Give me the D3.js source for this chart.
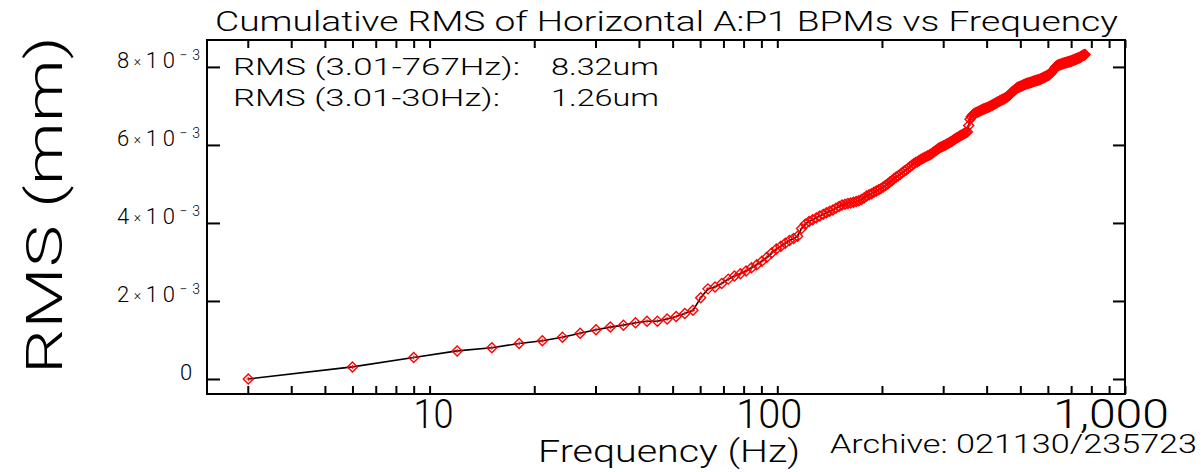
<!DOCTYPE html>
<html>
<head>
<meta charset="utf-8">
<script src="https://cdn.jsdelivr.net/npm/d3@7"></script>
<style>
  html, body { margin: 0; padding: 0; background: #fff; }
  svg { display: block; }
  text { font-family: Roboto, "DejaVu Sans", sans-serif; font-weight: 300; fill: #000; }
</style>
</head>
<body>
<svg id="chart" width="1201" height="472"></svg>
<script>
// ---- data ----
// Frequency bins (Hz)
const freqHz = [
  3.01, 6.0, 9.0, 12.0,
  15.1, 18.1, 21.1, 24.1, 27.1, 30.1, 33.1, 36.1, 39.1,
  42.2, 45.2, 48.2, 51.2, 54.2, 57.2, 60.2, 63.2, 66.2, 69.2,
  72.3, 75.3, 78.3, 81.3, 84.3, 87.3, 90.3, 93.3, 96.3,
  99.4, 102.4, 105.4, 108.4, 111.4, 114.4, 117.4, 120.4, 123.4, 126.4,
  129.5, 132.5, 135.5, 138.5, 141.5, 144.5, 147.5, 150.5, 153.5,
  156.6, 159.6, 162.6, 165.6, 168.6, 171.6, 174.6, 177.6, 180.6,
  183.7, 186.7, 189.7, 192.7, 195.7, 198.7, 201.7, 204.7, 207.7, 210.7,
  213.8, 216.8, 219.8, 222.8, 225.8, 228.8, 231.8, 234.8, 237.8,
  240.9, 243.9, 246.9, 249.9, 252.9, 255.9, 258.9, 261.9, 264.9,
  268.0, 271.0, 274.0, 277.0, 280.0, 283.0, 286.0, 289.0, 292.0, 295.0,
  298.1, 301.1, 304.1, 307.1, 310.1, 313.1, 316.1, 319.1, 322.1,
  325.2, 328.2, 331.2, 334.2, 337.2, 340.2, 343.2, 346.2, 349.2,
  352.3, 355.3, 358.3, 361.3, 364.3, 367.3, 370.3, 373.3, 376.3, 379.3,
  382.4, 385.4, 388.4, 391.4, 394.4, 397.4, 400.4, 403.4, 406.4,
  409.5, 412.5, 415.5, 418.5, 421.5, 424.5, 427.5, 430.5, 433.5,
  436.6, 439.6, 442.6, 445.6, 448.6, 451.6, 454.6, 457.6, 460.6, 463.6,
  466.7, 469.7, 472.7, 475.7, 478.7, 481.7, 484.7, 487.7, 490.7,
  493.8, 496.8, 499.8, 502.8, 505.8, 508.8, 511.8, 514.8, 517.8,
  520.9, 523.9, 526.9, 529.9, 532.9, 535.9, 538.9, 541.9, 544.9, 547.9,
  551.0, 554.0, 557.0, 560.0, 563.0, 566.0, 569.0, 572.0, 575.0,
  578.1, 581.1, 584.1, 587.1, 590.1, 593.1, 596.1, 599.1, 602.1,
  605.2, 608.2, 611.2, 614.2, 617.2, 620.2, 623.2, 626.2, 629.2, 632.2,
  635.3, 638.3, 641.3, 644.3, 647.3, 650.3, 653.3, 656.3, 659.3,
  662.4, 665.4, 668.4, 671.4, 674.4, 677.4, 680.4, 683.4, 686.4,
  689.5, 692.5, 695.5, 698.5, 701.5, 704.5, 707.5, 710.5, 713.5, 716.5,
  719.6, 722.6, 725.6, 728.6, 731.6, 734.6, 737.6, 740.6, 743.6,
  746.7, 749.7, 752.7, 755.7, 758.7, 761.7, 764.7, 767.7
];
// Cumulative RMS, in units of 1e-3 mm
const rmsE3 = [
  0.00, 0.31, 0.55, 0.72, 0.80, 0.91, 0.98, 1.07, 1.17, 1.26,
  1.33, 1.38, 1.44, 1.48, 1.48, 1.54, 1.60, 1.68, 1.76,
  2.08, 2.31, 2.36, 2.45, 2.56, 2.64, 2.70, 2.77, 2.85, 2.93,
  3.02, 3.12, 3.23, 3.33, 3.40, 3.48, 3.55, 3.60, 3.66, 3.86,
  3.97, 4.04, 4.08, 4.13, 4.18, 4.22, 4.26, 4.30, 4.33, 4.38,
  4.42, 4.46, 4.48, 4.50, 4.51, 4.53, 4.55, 4.57, 4.60, 4.64,
  4.69, 4.72, 4.75, 4.79, 4.82, 4.85, 4.88, 4.92, 4.96, 5.00,
  5.05, 5.09, 5.14, 5.18, 5.21, 5.25, 5.29, 5.33, 5.36, 5.40,
  5.44, 5.48, 5.52, 5.55, 5.57, 5.60, 5.63, 5.65, 5.68, 5.70,
  5.72, 5.74, 5.77, 5.80, 5.83, 5.86, 5.89, 5.92, 5.94, 5.96,
  5.98, 6.00, 6.02, 6.04, 6.06, 6.08, 6.11, 6.13, 6.16, 6.18,
  6.20, 6.22, 6.24, 6.26, 6.28, 6.30, 6.32, 6.34, 6.50, 6.66,
  6.72, 6.76, 6.79, 6.81, 6.83, 6.84, 6.86, 6.87, 6.89, 6.90,
  6.92, 6.93, 6.94, 6.95, 6.96, 6.98, 6.99, 7.01, 7.02, 7.04,
  7.05, 7.07, 7.08, 7.10, 7.11, 7.13, 7.14, 7.16, 7.17, 7.18,
  7.20, 7.21, 7.23, 7.25, 7.27, 7.30, 7.32, 7.35, 7.37, 7.39,
  7.41, 7.43, 7.45, 7.47, 7.48, 7.49, 7.50, 7.51, 7.52, 7.53,
  7.54, 7.55, 7.56, 7.57, 7.58, 7.58, 7.59, 7.60, 7.60, 7.61,
  7.62, 7.63, 7.63, 7.64, 7.65, 7.65, 7.66, 7.67, 7.67, 7.68,
  7.69, 7.70, 7.71, 7.72, 7.73, 7.74, 7.75, 7.76, 7.77, 7.78,
  7.79, 7.80, 7.82, 7.84, 7.86, 7.88, 7.90, 7.92, 7.94, 7.97,
  8.00, 8.02, 8.03, 8.04, 8.05, 8.05, 8.06, 8.07, 8.07, 8.08,
  8.09, 8.09, 8.10, 8.10, 8.11, 8.11, 8.12, 8.12, 8.13, 8.13,
  8.14, 8.14, 8.15, 8.15, 8.16, 8.17, 8.17, 8.18, 8.19, 8.19,
  8.20, 8.21, 8.21, 8.22, 8.23, 8.23, 8.24, 8.25, 8.26, 8.27,
  8.28, 8.29, 8.30, 8.30, 8.31, 8.32
];
// Axis ticks
const xMinorTicks = [3,4,5,6,7,8,9,10,20,30,40,50,60,70,80,90,100,200,300,400,500,600,700,800,900,1000];
const xMajorTicks = [10, 100, 1000];
const xMajorLabels = ["10", "100", "1,000"];
const yTicks = [0, 2, 4, 6, 8];          // ×10^-3 mm
const yTickMantissa = ["0", "2", "4", "6", "8"];
const titleText = "Cumulative RMS of Horizontal A:P1 BPMs vs Frequency";
const legendLabels = ["RMS (3.01-767Hz):", "RMS (3.01-30Hz):"];
const legendValues = ["8.32um", "1.26um"];
const xAxisTitle = "Frequency (Hz)";
const yAxisTitle = "RMS (mm)";
const archiveText = "Archive: 021130/235723";

// ---- layout ----
const L = 207, R = 1125, T = 40, B = 394;
const svg = d3.select("#chart");

const x = d3.scaleLog().domain([2.29, 1000]).range([L, R]);
const y = d3.scaleLinear().domain([-0.385, 8.69]).range([B, T]);

const data = freqHz.map((f, i) => ({ f, v: rmsE3[i] }));

// Line
const line = d3.line().x(d => x(d.f)).y(d => y(d.v));
svg.append("path")
  .datum(data)
  .attr("d", line)
  .attr("fill", "none")
  .attr("stroke", "#000")
  .attr("stroke-width", 1.6);

// Markers: red diamond outline with inner cross
const mk = svg.append("g").attr("fill", "none").attr("stroke", "#ff0000").attr("stroke-width", 1.4);
const s = 5;
mk.selectAll("path.d").data(data).join("path")
  .attr("class", "d")
  .attr("d", d => {
    const cx = x(d.f), cy = y(d.v);
    return `M${cx},${cy - s}L${cx + s},${cy}L${cx},${cy + s}L${cx - s},${cy}Z`;
  });
mk.selectAll("path.c").data(data).join("path")
  .attr("class", "c")
  .attr("stroke-width", 1)
  .attr("d", d => {
    const cx = x(d.f), cy = y(d.v);
    return `M${cx - 2},${cy}L${cx + 2},${cy}M${cx},${cy - 2}L${cx},${cy + 2}`;
  });

// Axes (ticks only, inward)
function styleAxis(g) {
  g.select(".domain").remove();
  g.selectAll(".tick line").attr("stroke", "#000").attr("stroke-width", 2);
  g.selectAll(".tick text").remove();
}
svg.append("g").attr("transform", `translate(0,${B})`)
  .call(d3.axisBottom(x).tickValues(xMinorTicks).tickSize(-8)).call(styleAxis);
svg.append("g").attr("transform", `translate(0,${T})`)
  .call(d3.axisTop(x).tickValues(xMinorTicks).tickSize(-8)).call(styleAxis);
svg.append("g").attr("transform", `translate(${L},0)`)
  .call(d3.axisLeft(y).tickValues(yTicks).tickSize(-13)).call(styleAxis);
svg.append("g").attr("transform", `translate(${R},0)`)
  .call(d3.axisRight(y).tickValues(yTicks).tickSize(-12)).call(styleAxis);

// Frame
svg.append("rect")
  .attr("x", L).attr("y", T).attr("width", R - L).attr("height", B - T)
  .attr("fill", "none").attr("stroke", "#000").attr("stroke-width", 2);

// X tick labels
const xLabW = [40, 66, 116];
svg.append("g").selectAll("text").data(xMajorTicks).join("text")
  .attr("x", (d, i) => x(d) - (i === 0 ? -4 : i === 1 ? 8 : 14))
  .attr("y", 428)
  .attr("text-anchor", "middle")
  .attr("font-size", 41)
  .attr("textLength", (d, i) => xLabW[i])
  .attr("lengthAdjust", "spacingAndGlyphs")
  .text((d, i) => xMajorLabels[i]);

// Y tick labels
const yl = svg.append("g");
yTicks.forEach((v, i) => {
  const t = yl.append("text")
    .attr("x", v === 0 ? 180 : 117)
    .attr("y", y(v) + 1)
    .attr("font-size", 22);
  t.append("tspan").text(yTickMantissa[i]);
  if (v !== 0) {
    t.attr("textLength", 83).attr("lengthAdjust", "spacing");
    t.append("tspan").attr("font-size", 14).attr("dy", -2).text("×");
    t.append("tspan").attr("font-size", 22).attr("dy", 2).text("10");
    t.append("tspan").attr("font-size", 14).attr("dy", -8).text("−3");
  }
});

// Title
svg.append("text")
  .attr("x", 215).attr("y", 31)
  .attr("font-size", 27)
  .attr("textLength", 903).attr("lengthAdjust", "spacingAndGlyphs")
  .text(titleText);

// Legend text inside plot
legendLabels.forEach((lab, i) => {
  const by = 75 + i * 31;
  svg.append("text").attr("x", 233).attr("y", by).attr("font-size", 24)
    .attr("textLength", i === 0 ? 287 : 267).attr("lengthAdjust", "spacingAndGlyphs")
    .text(lab);
  svg.append("text").attr("x", 551).attr("y", by).attr("font-size", 24)
    .attr("textLength", 108).attr("lengthAdjust", "spacingAndGlyphs")
    .text(legendValues[i]);
});

// X axis title
svg.append("text")
  .attr("x", 538).attr("y", 462)
  .attr("font-size", 32)
  .attr("textLength", 262).attr("lengthAdjust", "spacingAndGlyphs")
  .text(xAxisTitle);

// Archive stamp
svg.append("text")
  .attr("x", 830).attr("y", 453)
  .attr("font-size", 25)
  .attr("textLength", 367).attr("lengthAdjust", "spacingAndGlyphs")
  .text(archiveText);

// Y axis title (rotated)
svg.append("text")
  .attr("transform", "translate(62,205) rotate(-90)")
  .attr("text-anchor", "middle")
  .attr("font-size", 50)
  .attr("textLength", 338).attr("lengthAdjust", "spacingAndGlyphs")
  .text(yAxisTitle);
</script>
</body>
</html>
